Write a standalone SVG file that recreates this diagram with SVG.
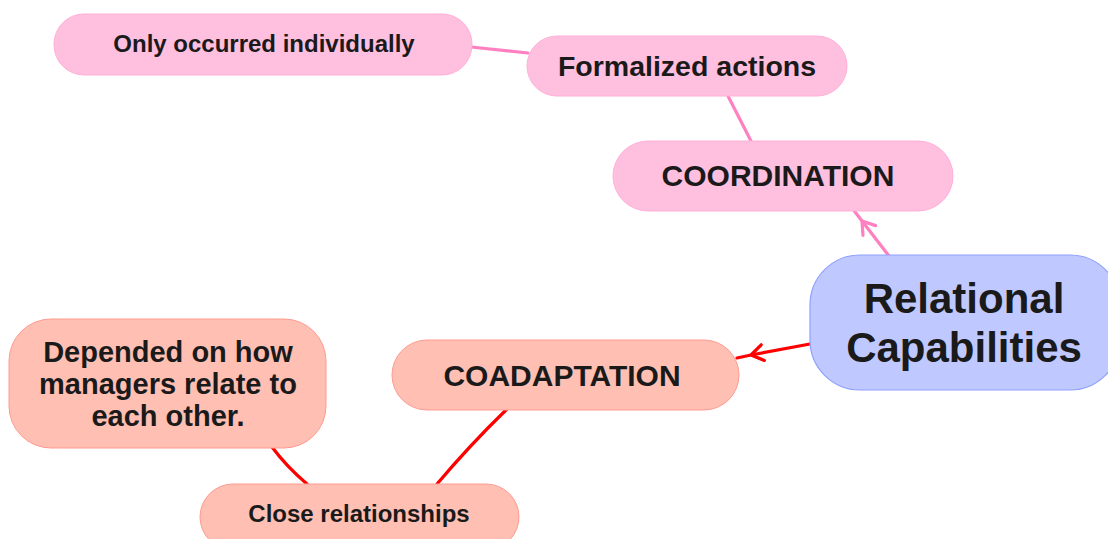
<svg xmlns="http://www.w3.org/2000/svg" width="1108" height="539" viewBox="0 0 1108 539">
  <style>
    text { font-family: "Liberation Sans", Arial, sans-serif; font-weight: bold; fill: #1a1a1a; text-anchor: middle; }
    .pink { fill: #ffbfdf; stroke: #ffb0d8; stroke-width: 1; }
    .peach { fill: #ffbfb2; stroke: #ff9a90; stroke-width: 1; }
    .root { fill: #c0c9ff; stroke: #8fa0ff; stroke-width: 1.2; }
    .lp { fill: none; stroke: #ff80c0; stroke-width: 3.2; stroke-linecap: round; }
    .lr { fill: none; stroke: #ff0000; stroke-width: 3.2; stroke-linecap: round; }
  </style>
  <defs>
    <marker id="chevPink" viewBox="-14 -10 16 20" markerWidth="16" markerHeight="20" refX="0" refY="0" orient="auto" markerUnits="userSpaceOnUse">
      <path d="M-12,-8 L0,0 L-12,8" fill="none" stroke="#ff80c0" stroke-width="3.2" stroke-linecap="round" stroke-linejoin="round"/>
    </marker>
    <marker id="chevRed" viewBox="-14 -10 16 20" markerWidth="16" markerHeight="20" refX="0" refY="0" orient="auto" markerUnits="userSpaceOnUse">
      <path d="M-12,-8 L0,0 L-12,8" fill="none" stroke="#ff0000" stroke-width="3.2" stroke-linecap="round" stroke-linejoin="round"/>
    </marker>
  </defs>

  <g id="connectors">
    <path class="lp" d="M889,256 L862,221 L852,208" marker-mid="url(#chevPink)"/>
    <path class="lr" d="M810,344 L751,355 L737,358" marker-mid="url(#chevRed)"/>
    <path class="lp" d="M751,141 L728,96"/>
    <path class="lp" d="M528,53 L471,47"/>
    <path class="lr" d="M506,410 Q470,445 437,484"/>
    <path class="lr" d="M307,484 Q286,466 272,447"/>
  </g>

  <g id="node-only-occurred">
    <rect class="pink" x="54" y="14" width="418" height="61" rx="30"/>
    <text x="264" y="52" font-size="24">Only occurred individually</text>
  </g>

  <g id="node-formalized">
    <rect class="pink" x="527" y="36" width="320" height="60" rx="30"/>
    <text x="687" y="76" font-size="28.5">Formalized actions</text>
  </g>

  <g id="node-coordination">
    <rect class="pink" x="613" y="141" width="340" height="70" rx="35"/>
    <text x="778" y="186" font-size="30">COORDINATION</text>
  </g>

  <g id="node-relational">
    <rect class="root" x="810" y="255" width="310" height="135" rx="50"/>
    <text x="964" y="313" font-size="42">Relational</text>
    <text x="964" y="362" font-size="42">Capabilities</text>
  </g>

  <g id="node-coadaptation">
    <rect class="peach" x="392" y="340" width="347" height="70" rx="35"/>
    <text x="562" y="386" font-size="30">COADAPTATION</text>
  </g>

  <g id="node-depended">
    <rect class="peach" x="9" y="319" width="317" height="129" rx="42"/>
    <text x="168" y="362" font-size="29">Depended on how</text>
    <text x="168" y="394" font-size="29">managers relate to</text>
    <text x="168" y="426" font-size="29">each other.</text>
  </g>

  <g id="node-close">
    <rect class="peach" x="200" y="484" width="319" height="66" rx="33"/>
    <text x="359" y="522" font-size="24">Close relationships</text>
  </g>
</svg>
